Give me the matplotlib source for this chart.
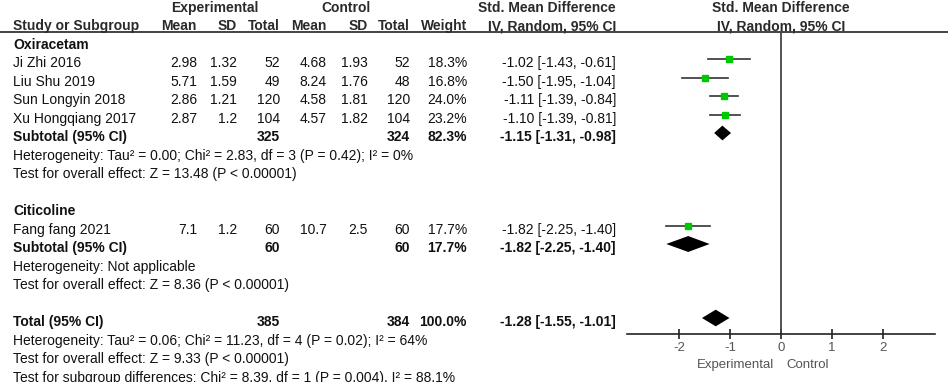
import matplotlib
matplotlib.use("Agg")
import matplotlib.pyplot as plt

plt.rcParams["font.family"] = ["Liberation Sans", "DejaVu Sans"]

# study level data
studies = ["Ji Zhi 2016", "Liu Shu 2019", "Sun Longyin 2018", "Xu Hongqiang 2017", "Fang fang 2021"]
study_rows = [3, 4, 5, 6, 12]
exp_mean = [2.98, 5.71, 2.86, 2.87, 7.1]
exp_sd = [1.32, 1.59, 1.21, 1.2, 1.2]
exp_n = [52, 49, 120, 104, 60]
ctl_mean = [4.68, 8.24, 4.58, 4.57, 10.7]
ctl_sd = [1.93, 1.76, 1.81, 1.82, 2.5]
ctl_n = [52, 48, 120, 104, 60]
weight = [18.3, 16.8, 24.0, 23.2, 17.7]
smd = [-1.02, -1.50, -1.11, -1.10, -1.82]
ci_lo = [-1.43, -1.95, -1.39, -1.39, -2.25]
ci_hi = [-0.61, -1.04, -0.84, -0.81, -1.40]

# pooled rows
pooled_names = ["Subtotal (95% CI)", "Subtotal (95% CI)", "Total (95% CI)"]
pooled_rows = [7, 13, 17]
pooled_exp_n = [325, 60, 385]
pooled_ctl_n = [324, 60, 384]
pooled_weight = [82.3, 17.7, 100.0]
pooled_smd = [-1.15, -1.82, -1.28]
pooled_lo = [-1.31, -2.25, -1.55]
pooled_hi = [-0.98, -1.40, -1.01]

group_names = ["Oxiracetam", "Citicoline"]
group_rows = [2, 11]

notes = {
    8: "Heterogeneity: Tau\u00b2 = 0.00; Chi\u00b2 = 2.83, df = 3 (P = 0.42); I\u00b2 = 0%",
    9: "Test for overall effect: Z = 13.48 (P < 0.00001)",
    14: "Heterogeneity: Not applicable",
    15: "Test for overall effect: Z = 8.36 (P < 0.00001)",
    18: "Heterogeneity: Tau\u00b2 = 0.06; Chi\u00b2 = 11.23, df = 4 (P = 0.02); I\u00b2 = 64%",
    19: "Test for overall effect: Z = 9.33 (P < 0.00001)",
    20: "Test for subgroup differences: Chi\u00b2 = 8.39, df = 1 (P = 0.004), I\u00b2 = 88.1%",
}

xticks = [-2, -1, 0, 1, 2]

W, H = 948, 382
ROW0, ROWH = 3.5, 18.5          # pixel centre of row 0, row height
BASE = 0.45                     # text baseline offset (rows)
FS = 10
GREEN = "#00c800"

def row_of(px):
    return (px - ROW0) / ROWH

fig = plt.figure(figsize=(W / 100, H / 100), dpi=100)

# table part: x in pixels, y in rows
bg = fig.add_axes([0, 0, 1, 1])
bg.set_xlim(0, W)
bg.set_ylim(row_of(H), row_of(0))
bg.axis("off")

def put(x, r, s, ha="right", bold=False, color="#111111"):
    bg.text(x, r + BASE, s, ha=ha, va="baseline", fontsize=FS,
            fontweight="bold" if bold else "normal", color=color)

col_x = {"em": 197, "esd": 237, "en": 280, "cm": 327, "csd": 368, "cn": 410, "w": 467, "ci": 616}
NAME_X = 13

# headers
hc = "#2a2a2a"
put(215, 0, "Experimental", ha="center", bold=True, color=hc)
put(346, 0, "Control", ha="center", bold=True, color=hc)
put(616, 0, "Std. Mean Difference", bold=True, color=hc)
put(781, 0, "Std. Mean Difference", ha="center", bold=True, color=hc)
put(NAME_X, 1, "Study or Subgroup", ha="left", bold=True, color=hc)
for key, lab in [("em", "Mean"), ("esd", "SD"), ("en", "Total"), ("cm", "Mean"),
                 ("csd", "SD"), ("cn", "Total"), ("w", "Weight"), ("ci", "IV, Random, 95% CI")]:
    put(col_x[key], 1, lab, bold=True, color=hc)
put(781, 1, "IV, Random, 95% CI", ha="center", bold=True, color=hc)
bg.plot([0, W], [row_of(32), row_of(32)], color="#222222", lw=1.2)

for name, r in zip(group_names, group_rows):
    put(NAME_X, r, name, ha="left", bold=True)

for i, r in enumerate(study_rows):
    put(NAME_X, r, studies[i], ha="left")
    put(col_x["em"], r, f"{exp_mean[i]:g}")
    put(col_x["esd"], r, f"{exp_sd[i]:g}")
    put(col_x["en"], r, str(exp_n[i]))
    put(col_x["cm"], r, f"{ctl_mean[i]:g}")
    put(col_x["csd"], r, f"{ctl_sd[i]:g}")
    put(col_x["cn"], r, str(ctl_n[i]))
    put(col_x["w"], r, f"{weight[i]:.1f}%")
    put(col_x["ci"], r, f"{smd[i]:.2f} [{ci_lo[i]:.2f}, {ci_hi[i]:.2f}]")

for i, r in enumerate(pooled_rows):
    put(NAME_X, r, pooled_names[i], ha="left", bold=True)
    put(col_x["en"], r, str(pooled_exp_n[i]), bold=True)
    put(col_x["cn"], r, str(pooled_ctl_n[i]), bold=True)
    put(col_x["w"], r, f"{pooled_weight[i]:.1f}%", bold=True)
    put(col_x["ci"], r, f"{pooled_smd[i]:.2f} [{pooled_lo[i]:.2f}, {pooled_hi[i]:.2f}]", bold=True)

for r, s in notes.items():
    put(NAME_X, r, s, ha="left")

# forest panel
x0, x1, y_top, y_bot = 627, 935, 32, 334
ax = fig.add_axes([x0 / W, 1 - y_bot / H, (x1 - x0) / W, (y_bot - y_top) / H])
ax.set_xlim(-3.02, 3.02)
ax.set_ylim(row_of(y_bot), row_of(y_top))
ax.patch.set_alpha(0)
for s in ["left", "right", "top"]:
    ax.spines[s].set_visible(False)
ax.spines["bottom"].set_color("#222222")
ax.spines["bottom"].set_linewidth(1.2)
ax.set_yticks([])
ax.set_xticks(xticks)
ax.set_xticklabels([str(t) for t in xticks])
ax.tick_params(axis="x", direction="inout", length=7, width=1.2, color="#222222",
               labelsize=9.5, labelcolor="#555555", pad=2)
ax.axvline(0, color="#444444", lw=1.3)

for i, r in enumerate(study_rows):
    ax.plot([ci_lo[i], ci_hi[i]], [r, r], color="#333333", lw=1.2)
    ax.plot(smd[i], r, marker="s", ms=weight[i] ** 0.5, color=GREEN, mec=GREEN)

half = [0.40, 0.43, 0.45]
for i, r in enumerate(pooled_rows):
    ax.fill([pooled_lo[i], pooled_smd[i], pooled_hi[i], pooled_smd[i]],
            [r, r - half[i], r, r + half[i]], color="black", lw=0)

ax.text(-0.14, -0.103, "Experimental", transform=ax.get_xaxis_transform(), ha="right",
        va="center", fontsize=9.5, color="#555555")
ax.text(0.1, -0.103, "Control", transform=ax.get_xaxis_transform(), ha="left",
        va="center", fontsize=9.5, color="#555555")

fig.savefig("out.png", dpi=100)
